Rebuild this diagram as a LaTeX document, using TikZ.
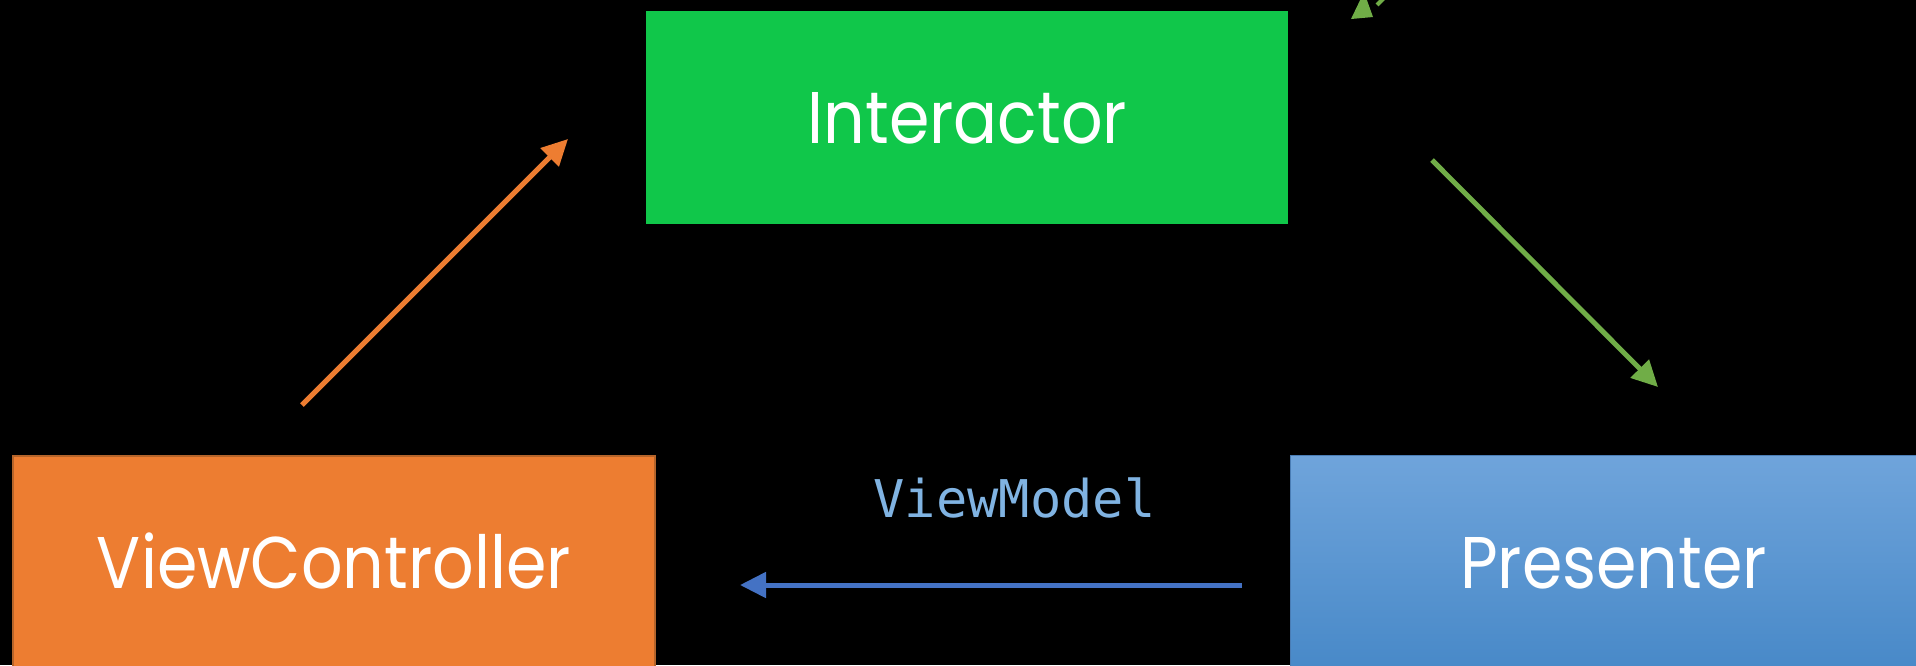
\documentclass[tikz,border=0pt]{standalone}
\usepackage{fontspec}
\newfontfamily\boxfont{Poppins}
\newfontfamily\codefont{DejaVu Sans Mono}
\usetikzlibrary{arrows.meta}
\definecolor{interactorgreen}{HTML}{10C74A}
\definecolor{vcorange}{HTML}{ED7D31}
\definecolor{vcborder}{HTML}{B5642A}
\definecolor{presentertop}{HTML}{6FA4DB}
\definecolor{presenterbottom}{HTML}{4889C8}
\definecolor{presenterborder}{HTML}{4A7DB5}
\definecolor{flowgreen}{HTML}{70AD47}
\definecolor{flowblue}{HTML}{4472C4}
\definecolor{labelblue}{HTML}{80B3E2}
% slightly condensed label text for the component boxes
\newcommand{\boxlabel}[1]{\scalebox{0.89}[1]{#1}}
\begin{document}
\begin{tikzpicture}[x=0.5pt,y=-0.5pt,
  block/.style={rectangle, anchor=north west, inner sep=0pt,
    minimum width=321pt, minimum height=106.5pt, text=white,
    font=\boxfont\fontsize{36.6pt}{40pt}\selectfont,
    text height=26pt, text depth=0pt},
  flow/.style={line width=2.5pt, -{Triangle[length=13pt,width=12.5pt]}},
  codelabel/.style={anchor=base, inner sep=0pt, text=labelblue,
    font=\codefont\fontsize{26pt}{28pt}\selectfont}]

% canvas
\fill[black] (0,0) rectangle (1916,665);
\useasboundingbox (0,0) rectangle (1916,665);

% components
\node[block, fill=interactorgreen] (interactor) at (646,11) {\boxlabel{Interactor}};
\node[block, fill=vcorange, draw=vcborder, line width=1pt] (vc) at (12,455) {\boxlabel{ViewController}};
\node[block, minimum width=323pt, top color=presentertop, bottom color=presenterbottom,
      draw=presenterborder, line width=0.6pt] (presenter) at (1290,455) {\boxlabel{Presenter}};

% connector end points
\coordinate (vcOut) at (302,405);
\coordinate (interactorIn) at (568,139);
\coordinate (interactorOut) at (1432,160);
\coordinate (presenterIn) at (1658,387);
\coordinate (presenterOut) at (1242,585);
\coordinate (vcIn) at (740,585);

% flows
\draw[flow, vcorange] (vcOut) -- (interactorIn);
\draw[flow, flowgreen] (interactorOut) -- (presenterIn);
\draw[flow, flowblue] (presenterOut) -- (vcIn);
\node[codelabel] (viewmodel) at (1014.5,517) {ViewModel};

% arrow leaving the top edge
\fill[flowgreen] (1351,19) -- (1373,17) -- (1364,-8) -- cycle;
\draw[flowgreen, line width=2pt] (1377,5) -- (1384,-2);
\end{tikzpicture}
\end{document}
